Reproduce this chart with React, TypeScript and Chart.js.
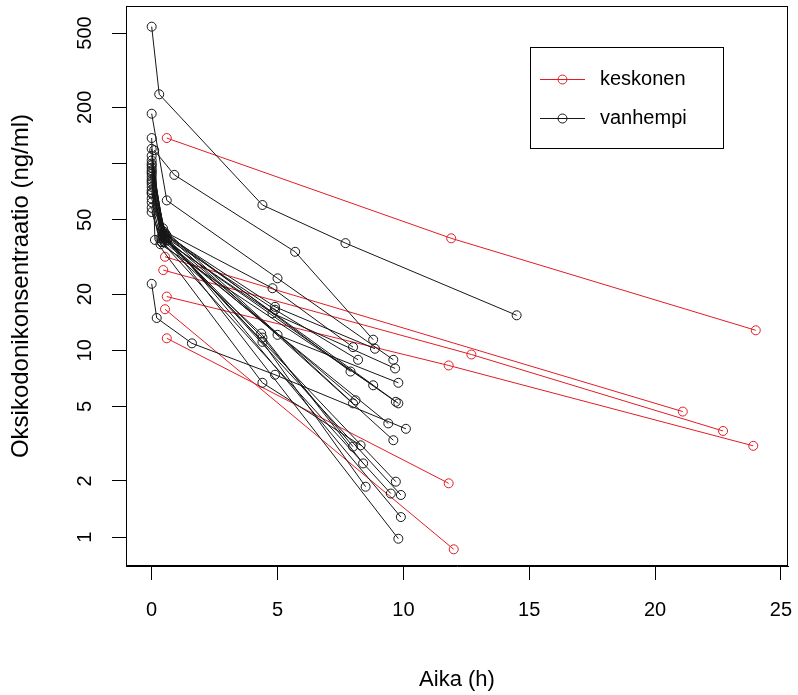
import React, { useEffect, useRef } from 'react';
import { Chart, registerables } from 'chart.js';

Chart.register(...registerables);

// Axis ticks
const xTicks = [0, 5, 10, 15, 20, 25];
const yTicks = [1, 2, 5, 10, 20, 50, 100, 200, 500];
const yTickLabels = ['1', '2', '5', '10', '20', '50', '', '200', '500'];

// Legend labels
const groupLabels = ['keskonen', 'vanhempi'];

// "keskonen" subjects: times (h) and concentrations (ng/ml)
const keskonenTime: number[][] = [
  [0.6, 11.9, 24.0],
  [0.53, 21.1],
  [0.46, 12.7, 22.7],
  [0.6, 11.8, 23.9],
  [0.53, 12.0],
  [0.6, 11.8],
];
const keskonenConc: number[][] = [
  [137, 39.8, 12.8],
  [31.7, 4.7],
  [26.9, 9.5, 3.7],
  [19.4, 8.3, 3.08],
  [16.6, 0.86],
  [11.6, 1.94],
];

// "vanhempi" subjects
const vanhempiTime: number[][] = [
  [0, 0.3, 4.4, 7.7, 14.5],
  [0.1, 0.9, 5.7, 8.8],
  [0, 0.6, 5.0, 9.6],
  [0, 0.4, 4.8, 8.0],
  [0, 0.5, 4.9, 8.87],
  [0, 0.35, 4.8, 9.67],
  [0, 0.45, 4.9, 8.2],
  [0, 0.5, 5.0, 9.8],
  [0, 0.4, 4.35, 8.4],
  [0, 0.55, 4.4, 8.5],
  [0, 0.2, 1.6, 4.9, 10.1],
  [0, 0.13, 4.4, 8.3],
  [0, 0.5, 7.9],
  [0, 0.4, 9.7],
  [0, 0.6, 9.8],
  [0, 0.45, 8.0],
  [0, 0.5, 9.4],
  [0, 0.55, 9.6],
  [0, 0.6, 4.4, 8.0],
  [0, 0.35, 8.8],
  [0, 0.5, 9.7],
  [0, 0.45, 8.1],
  [0, 0.4, 9.5],
  [0, 0.55, 9.9],
  [0, 0.5, 9.9],
  [0, 0.6, 9.8],
];
const vanhempiConc: number[][] = [
  [541, 235, 60, 37.5, 15.4],
  [118, 87, 33.7, 11.4],
  [185, 63.5, 24.3, 8.9],
  [120, 44, 21.5, 10.4],
  [104, 42, 17.1, 10.2],
  [90, 40, 15.8, 8.0],
  [80, 41, 16.5, 8.9],
  [69, 39, 12.1, 6.7],
  [55, 38, 12.3, 2.48],
  [100, 40, 11.1, 1.86],
  [22.7, 14.9, 10.9, 7.4, 3.8],
  [137, 39, 6.7, 3.1],
  [95, 43, 7.7],
  [85, 40, 5.3],
  [75, 41, 5.2],
  [110, 45, 5.2],
  [65, 38, 4.06],
  [88, 42, 3.3],
  [72, 39, 11.7, 3.05],
  [58, 37, 6.5],
  [98, 40, 1.98],
  [78, 41, 5.4],
  [62, 38, 1.71],
  [82, 40, 1.68],
  [92, 42, 1.28],
  [70, 39, 0.98],
];

const RED = 'rgb(226,28,36)';
const BLACK = '#161616';
const FONT_FAMILY = "'Liberation Sans', Arial, sans-serif";

function makeDataset(times: number[], conc: number[], color: string) {
  return {
    data: times.map((t, i) => ({ x: t, y: conc[i] })),
    showLine: true,
    borderColor: color,
    borderWidth: 1,
    pointRadius: 4.5,
    pointHoverRadius: 4.5,
    pointBorderWidth: 1,
    pointBorderColor: color,
    pointBackgroundColor: 'rgba(0,0,0,0)',
    pointStyle: 'circle' as const,
    tension: 0,
  };
}

const framePlugin = {
  id: 'rFrame',
  afterDatasetsDraw(chart: any) {
    const { ctx, chartArea } = chart;
    ctx.save();
    ctx.strokeStyle = '#000';
    ctx.lineWidth = 1;
    const l = Math.round(chartArea.left) + 0.5;
    const t = Math.round(chartArea.top) + 0.5;
    const r = Math.round(chartArea.right) - 0.5;
    const b = Math.round(chartArea.bottom) - 0.5;
    ctx.strokeRect(l, t, r - l, b - t);
    ctx.restore();
  },
};

const legendPlugin = {
  id: 'rLegend',
  afterDraw(chart: any) {
    const { ctx } = chart;
    ctx.save();
    ctx.strokeStyle = '#000';
    ctx.lineWidth = 1;
    ctx.strokeRect(530.5, 47.5, 193, 101);
    const entries = [
      { label: groupLabels[0], color: RED, y: 79 },
      { label: groupLabels[1], color: BLACK, y: 118 },
    ];
    entries.forEach((e) => {
      ctx.strokeStyle = e.color;
      ctx.beginPath();
      ctx.moveTo(540, e.y + 0.5);
      ctx.lineTo(585, e.y + 0.5);
      ctx.stroke();
      ctx.beginPath();
      ctx.arc(562.5, e.y + 0.5, 4.5, 0, Math.PI * 2);
      ctx.stroke();
      ctx.fillStyle = '#000';
      ctx.font = `20px ${FONT_FAMILY}`;
      ctx.textAlign = 'left';
      ctx.textBaseline = 'middle';
      ctx.fillText(e.label, 600, e.y);
    });
    ctx.restore();
  },
};

export default function App() {
  const ref = useRef<HTMLCanvasElement>(null);

  useEffect(() => {
    if (!ref.current) return;
    const datasets: any[] = [];
    vanhempiTime.forEach((ts, i) => datasets.push(makeDataset(ts, vanhempiConc[i], BLACK)));
    keskonenTime.forEach((ts, i) => datasets.push(makeDataset(ts, keskonenConc[i], RED)));

    const tickFont = { family: FONT_FAMILY, size: 20 };

    const chart = new Chart(ref.current, {
      type: 'scatter',
      data: { datasets },
      options: {
        responsive: false,
        animation: false,
        layout: { padding: { top: 6, right: 10, bottom: 0, left: 0 } },
        plugins: {
          legend: { display: false },
          tooltip: { enabled: false },
        },
        scales: {
          x: {
            type: 'linear',
            min: -1.02,
            max: 25.28,
            afterBuildTicks: (s: any) => {
              s.ticks = xTicks.map((v) => ({ value: v }));
            },
            afterFit: (s: any) => {
              s.height = 129;
              s.paddingLeft = 0;
              s.paddingRight = 0;
            },
            ticks: {
              autoSkip: false,
              minRotation: 0,
              maxRotation: 0,
              padding: 18,
              color: '#000',
              font: tickFont,
              callback: (v: any) => String(v),
            },
            grid: {
              display: true,
              drawOnChartArea: false,
              drawTicks: true,
              tickLength: 14,
              color: '#000',
              lineWidth: 1,
            },
            border: { display: true, color: '#000', width: 1 },
            title: {
              display: true,
              text: 'Aika (h)',
              color: '#000',
              font: { family: FONT_FAMILY, size: 22 },
              padding: { top: 0, bottom: 2 },
            },
          },
          y: {
            type: 'logarithmic',
            min: 0.7,
            max: 698,
            afterBuildTicks: (s: any) => {
              s.ticks = yTicks.map((v) => ({ value: v }));
            },
            afterFit: (s: any) => {
              s.width = 126;
              s.paddingTop = 0;
              s.paddingBottom = 0;
            },
            ticks: {
              autoSkip: false,
              minRotation: 90,
              maxRotation: 90,
              crossAlign: 'center',
              padding: 10,
              color: '#000',
              font: tickFont,
              callback: (v: any) => {
                const i = yTicks.indexOf(Number(v));
                return i >= 0 ? yTickLabels[i] : '';
              },
            },
            grid: {
              display: true,
              drawOnChartArea: false,
              drawTicks: true,
              tickLength: 14,
              color: '#000',
              lineWidth: 1,
            },
            border: { display: true, color: '#000', width: 1 },
            title: {
              display: true,
              text: 'Oksikodonikonsentraatio (ng/ml)',
              color: '#000',
              font: { family: FONT_FAMILY, size: 24 },
              padding: { top: 7, bottom: 0 },
            },
          },
        },
      } as any,
      plugins: [framePlugin, legendPlugin],
    });

    return () => chart.destroy();
  }, []);

  return (
    <div style={{ position: 'absolute', left: 0, top: 0, width: 798, height: 695, background: '#fff' }}>
      <canvas ref={ref} width={798} height={695} style={{ display: 'block' }} />
    </div>
  );
}
